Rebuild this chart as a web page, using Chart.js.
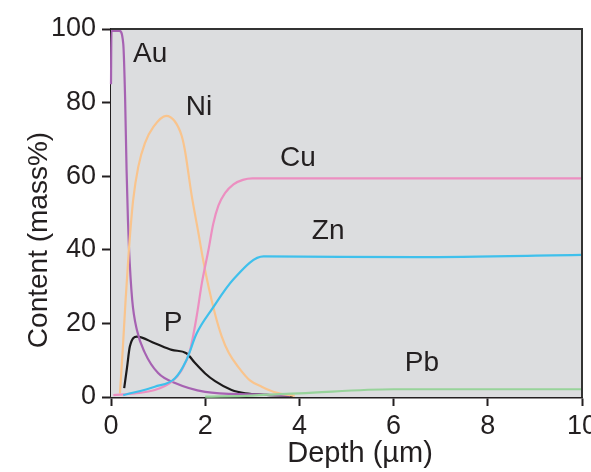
<!DOCTYPE html>
<html>
<head>
<meta charset="utf-8">
<script src="https://cdn.jsdelivr.net/npm/chart.js@4/dist/chart.umd.min.js"></script>
<style>
  html, body { margin: 0; padding: 0; background: #ffffff; }
  #wrap { width: 591px; height: 472px; }
</style>
</head>
<body>
<div id="wrap"><canvas id="c" width="591" height="472"></canvas></div>
<script>
// Depth profiles (depth in µm, content in mass%)
const auDepth   = [0, 0.01, 0.18, 0.26, 0.30, 0.33, 0.36, 0.38, 0.45, 0.55, 0.72, 1.0, 1.36, 2.0, 3.0, 3.8];
const auContent = [85, 99.5, 99.5, 96, 81, 62, 48, 41, 26.4, 18.2, 12, 6.5, 3.8, 1.4, 0.7, 0.4];

const niDepth   = [0.19, 0.25, 0.31, 0.38, 0.47, 0.58, 0.72, 0.90, 1.17, 1.35, 1.5, 1.57, 1.71, 1.85, 1.96, 2.07, 2.21, 2.35, 2.5, 2.70, 2.95, 3.2, 3.5, 3.9];
const niContent = [1, 13, 26.4, 40, 53.5, 62.6, 69, 73.4, 76.4, 75, 71, 67, 55, 45, 37, 30, 22.5, 16.5, 12, 8.2, 4.5, 2.8, 1.2, 0.3];

const cuDepth   = [0.05, 0.5, 0.93, 1.29, 1.5, 1.68, 1.82, 1.93, 2.07, 2.17, 2.28, 2.42, 2.6, 2.8, 3.0, 10];
const cuContent = [0.5, 1, 1.9, 4.2, 7.3, 12.8, 22, 31, 40, 47, 52, 55.4, 57.8, 59, 59.4, 59.4];

const znDepth   = [0.26, 0.93, 1.36, 1.6, 1.82, 2.14, 2.6, 3.24, 6.5, 10];
const znContent = [0.5, 2.8, 5.1, 10, 17.3, 23.8, 32, 38.2, 38.0, 38.6];

const pDepth    = [0.28, 0.34, 0.40, 0.55, 0.93, 1.29, 1.6, 1.78, 2.0, 2.21, 2.56, 2.85, 3.3, 3.86];
const pContent  = [2.4, 8, 13.7, 16.4, 14.6, 12.8, 11.9, 9.3, 6.4, 4.3, 1.9, 1.0, 0.6, 0.3];

const pbDepth   = [2.0, 3.0, 3.6, 4.0, 6.0, 10];
const pbContent = [0.1, 0.4, 0.8, 1.0, 2.1, 2.1];

const xTicks = [0, 2, 4, 6, 8, 10];
const yTicks = [0, 20, 40, 60, 80, 100];

// Element names written beside their curves (anchor in data units)
const seriesLabels = [
  { text: 'Au', x: 0.83, y: 93.2 },
  { text: 'Ni', x: 1.87, y: 78.8 },
  { text: 'Cu', x: 3.97, y: 65.0 },
  { text: 'Zn', x: 4.61, y: 45.1 },
  { text: 'P',  x: 1.32, y: 20.0 },
  { text: 'Pb', x: 6.60, y: 9.05 }
];

const FONT = "'Liberation Sans', Arial, Helvetica, sans-serif";
const INK = '#231f20';

function pts(xs, ys) { return xs.map((x, i) => ({ x: x, y: ys[i] })); }

function series(label, xs, ys, color) {
  return {
    label: label,
    data: pts(xs, ys),
    borderColor: color,
    backgroundColor: color,
    borderWidth: 2.2,
    pointRadius: 0,
    cubicInterpolationMode: 'monotone',
    fill: false,
    clip: false
  };
}

const plotDecor = {
  id: 'plotDecor',
  beforeDatasetsDraw(chart) {
    const { ctx, chartArea: a } = chart;
    ctx.save();
    ctx.fillStyle = '#dcdddf';
    ctx.fillRect(a.left, a.top, a.right - a.left, a.bottom - a.top);
    ctx.restore();
  },
  afterDatasetsDraw(chart) {
    const { ctx, chartArea: a, scales } = chart;
    ctx.save();
    // frame on top and right
    ctx.strokeStyle = '#333333';
    ctx.lineWidth = 2;
    ctx.beginPath();
    ctx.moveTo(a.left, a.top);
    ctx.lineTo(a.right, a.top);
    ctx.lineTo(a.right, a.bottom);
    ctx.stroke();

    // element names
    ctx.fillStyle = INK;
    ctx.font = '28px ' + FONT;
    ctx.textAlign = 'center';
    ctx.textBaseline = 'middle';
    seriesLabels.forEach(l => {
      ctx.fillText(l.text, scales.x.getPixelForValue(l.x), scales.y.getPixelForValue(l.y));
    });

    // axis titles
    ctx.font = '29px ' + FONT;
    ctx.textBaseline = 'middle';
    ctx.fillText('Depth (\u00b5m)', 360, 454);
    ctx.font = '28px ' + FONT;
    ctx.translate(39, 240);
    ctx.rotate(-Math.PI / 2);
    ctx.fillText('Content (mass%)', 0, 0);
    ctx.restore();
  }
};

new Chart(document.getElementById('c'), {
  type: 'line',
  data: {
    datasets: [
      series('Pb', pbDepth, pbContent, '#98d39b'),
      series('Zn', znDepth, znContent, '#3fc0ec'),
      series('Cu', cuDepth, cuContent, '#ec8fc1'),
      series('Ni', niDepth, niContent, '#f9c48d'),
      series('Au', auDepth, auContent, '#a662b2'),
      series('P', pDepth, pContent, '#1c1a1b')
    ]
  },
  options: {
    responsive: false,
    animation: false,
    events: [],
    layout: { padding: { left: 0, top: 29, right: 9, bottom: 0 } },
    plugins: { legend: { display: false }, tooltip: { enabled: false } },
    scales: {
      x: {
        type: 'linear',
        min: 0, max: 10,
        afterBuildTicks(s) { s.ticks = xTicks.map(v => ({ value: v })); },
        afterFit(s) { s.height = 75; s.paddingLeft = 0; s.paddingRight = 0; },
        ticks: { color: INK, font: { family: FONT, size: 27 }, padding: 4, maxRotation: 0, autoSkip: false },
        grid: { drawOnChartArea: false, drawTicks: true, tickLength: 9, tickWidth: 2, tickColor: INK },
        border: { display: true, color: INK, width: 2.5 }
      },
      y: {
        type: 'linear',
        min: 0, max: 100,
        afterBuildTicks(s) { s.ticks = yTicks.map(v => ({ value: v })); },
        afterFit(s) { s.width = 111; s.paddingTop = 0; s.paddingBottom = 0; },
        ticks: { color: INK, font: { family: FONT, size: 27 }, padding: 6, autoSkip: false },
        grid: { drawOnChartArea: false, drawTicks: true, tickLength: 9, tickWidth: 2, tickColor: INK },
        border: { display: true, color: INK, width: 2.5 }
      }
    }
  },
  plugins: [plotDecor]
});
</script>
</body>
</html>
